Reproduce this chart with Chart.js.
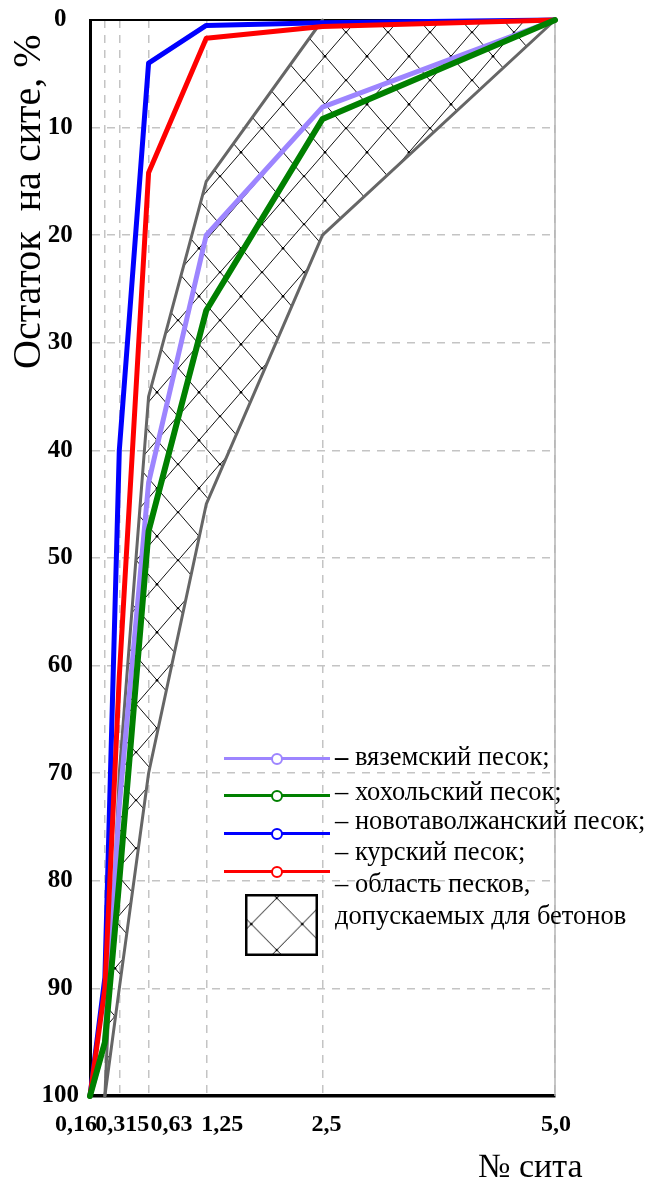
<!DOCTYPE html>
<html lang="ru">
<head>
<meta charset="utf-8">
<title>Остаток на сите</title>
<script src="https://cdn.jsdelivr.net/npm/chart.js@4.4.1/dist/chart.umd.min.js"></script>
<style>
  html, body { margin: 0; padding: 0; background: #fff; }
  #wrap { position: relative; width: 648px; height: 1183px; overflow: hidden;
          font-family: "Liberation Serif", "Times New Roman", serif; color: #000; }
  #plot { position: absolute; left: 0; top: 0; width: 648px; height: 1183px; }
  .ytitle { position: absolute; left: 6.5px; top: 369px; transform-origin: 0 0;
            transform: rotate(-90deg); font-size: 40px; line-height: 40px; white-space: pre; }
  .xtitle { position: absolute; left: 478px; top: 1149px; font-size: 34px; line-height: 34px; white-space: pre; }
  .leg-line { position: absolute; left: 224px; width: 106px; height: 3px; }
  .leg-dot { position: absolute; left: 271px; width: 8px; height: 8px; border-radius: 50%;
             border: 2.5px solid; background: #fff; }
  .leg-text { position: absolute; left: 335px; font-size: 26.5px; line-height: 26.5px; white-space: pre; }
  #legBox { position: absolute; left: 245px; top: 894px; width: 73px; height: 62px; }
</style>
</head>
<body>
<div id="wrap">
  <div id="plot"><canvas id="chart"></canvas></div>
  <div class="ytitle">Остаток  на сите, %</div>
  <div class="xtitle">№ сита</div>

  <div class="leg-line" style="top:757px;background:#9d85ff"></div>
  <div class="leg-dot" style="top:752.5px;border-color:#9d85ff"></div>
  <div class="leg-line" style="top:794px;background:#008000"></div>
  <div class="leg-dot" style="top:789.5px;border-color:#008000"></div>
  <div class="leg-line" style="top:832px;background:#0000ff"></div>
  <div class="leg-dot" style="top:827.5px;border-color:#0000ff"></div>
  <div class="leg-line" style="top:870px;background:#ff0000"></div>
  <div class="leg-dot" style="top:865.5px;border-color:#ff0000"></div>
  <canvas id="legBox" width="73" height="62"></canvas>

  <div class="leg-text" style="top:743px"><b>–</b> вяземский песок;</div>
  <div class="leg-text" style="top:778px">– хохольский песок;</div>
  <div class="leg-text" style="top:807px">– новотаволжанский песок;</div>
  <div class="leg-text" style="top:838px">– курский песок;</div>
  <div class="leg-text" style="top:870px">– область песков,</div>
  <div class="leg-text" style="top:902px">допускаемых для бетонов</div>
</div>

<script>
// Sieve sizes, mm (0 = pan) and their axis labels
const sieveSizes = [0, 0.16, 0.315, 0.63, 1.25, 2.5, 5.0];
const sieveTickLabels = ['0,16', '0,315', '0,63', '1,25', '2,5', '5,0'];

// Cumulative residue on each sieve, %
const vyazemskyResidue        = [100, 95, 73, 43, 20, 8.1, 0];
const khokholskyResidue       = [100, 95, 80, 47.5, 27, 9.2, 0];
const novotavolzhanskyResidue = [100, 89, 40, 4, 0.5, 0.25, 0];
const kurskyResidue           = [100, 90, 61, 14.2, 1.7, 0.6, 0];

// Limits of the zone of sands allowed for concrete
const fineLimitSieves    = [0.16, 0.315, 0.63, 1.25, 2.5];
const fineLimitResidue   = [100, 70, 35, 15, 0];
const coarseLimitSieves  = [0.16, 0.315, 0.63, 1.25, 2.5, 5.0];
const coarseLimitResidue = [100, 90, 70, 45, 20, 0];

const yTicks = [0, 10, 20, 30, 40, 50, 60, 70, 80, 90, 100];

const toPoints = (xs, ys) => xs.map((x, i) => ({ x, y: ys[i] }));

// Cross-hatch tile with small dots at the crossings
function makeHatch(ctx, w, h, ox, oy) {
  const c = document.createElement('canvas');
  c.width = w; c.height = h;
  const g = c.getContext('2d');
  g.strokeStyle = '#111';
  g.lineWidth = 1;
  for (let k = -1; k <= 1; k++) {
    g.beginPath();
    g.moveTo(k * w, 0); g.lineTo(k * w + w, h);
    g.moveTo(k * w + w, 0); g.lineTo(k * w, h);
    g.stroke();
  }
  g.fillStyle = '#000';
  [[0, 0], [w, 0], [0, h], [w, h], [w / 2, h / 2]].forEach(([x, y]) => {
    g.beginPath(); g.arc(x, y, 1.3, 0, Math.PI * 2); g.fill();
  });
  const p = ctx.createPattern(c, 'repeat');
  p.setTransform(new DOMMatrix().translate(ox, oy));
  return p;
}

const canvas = document.getElementById('chart');
const ctx = canvas.getContext('2d');
const hatch = makeHatch(ctx, 42, 48.5, 10, 32);

// Zone polygon: fine limit downwards, then coarse limit back up
const zonePolygon = toPoints(fineLimitSieves, fineLimitResidue)
  .concat(toPoints(coarseLimitSieves, coarseLimitResidue).reverse());

const SERIF = '"Liberation Serif", "Times New Roman", serif';

// Frame: thin black top edge and grey right edge
const framePlugin = {
  id: 'frame',
  beforeDatasetsDraw(chart) {
    const { ctx, chartArea: a } = chart;
    ctx.save();
    ctx.strokeStyle = '#000';
    ctx.lineWidth = 2;
    ctx.beginPath(); ctx.moveTo(a.left, a.top); ctx.lineTo(a.right, a.top); ctx.stroke();
    ctx.strokeStyle = '#b5b5b5';
    ctx.lineWidth = 1.5;
    ctx.beginPath(); ctx.moveTo(a.right, a.top); ctx.lineTo(a.right, a.bottom); ctx.stroke();
    ctx.restore();
  }
};

// Sieve labels under the x axis, packed side by side where the sieves crowd together
const sieveLabelPlugin = {
  id: 'sieveLabels',
  afterDraw(chart, args, opts) {
    const { ctx } = chart;
    const xs = chart.scales.x;
    ctx.save();
    ctx.font = 'bold 24px ' + SERIF;
    ctx.fillStyle = '#000';
    ctx.textAlign = 'center';
    ctx.textBaseline = 'alphabetic';
    sieveSizes.slice(1).forEach((v, i) => {
      const px = xs.getPixelForValue(v) + opts.shift[i];
      ctx.fillText(sieveTickLabels[i], px, opts.baseline);
    });
    ctx.restore();
  }
};

const lineStyle = {
  pointRadius: 0,
  pointHoverRadius: 0,
  fill: false,
  tension: 0,
  borderJoinStyle: 'round',
  borderCapStyle: 'round',
  clip: false
};

new Chart(ctx, {
  type: 'line',
  data: {
    datasets: [
      { ...lineStyle, label: 'хохольский песок', data: toPoints(sieveSizes, khokholskyResidue),
        borderColor: '#008000', borderWidth: 6, order: 0 },
      { ...lineStyle, label: 'курский песок', data: toPoints(sieveSizes, kurskyResidue),
        borderColor: '#ff0000', borderWidth: 5, order: 1 },
      { ...lineStyle, label: 'новотаволжанский песок', data: toPoints(sieveSizes, novotavolzhanskyResidue),
        borderColor: '#0000ff', borderWidth: 5, order: 2 },
      { ...lineStyle, label: 'вяземский песок', data: toPoints(sieveSizes, vyazemskyResidue),
        borderColor: '#9d85ff', borderWidth: 5, order: 3 },
      { ...lineStyle, label: 'fine limit', data: toPoints(fineLimitSieves, fineLimitResidue),
        borderColor: '#666', borderWidth: 3, order: 4 },
      { ...lineStyle, label: 'coarse limit', data: toPoints(coarseLimitSieves, coarseLimitResidue),
        borderColor: '#666', borderWidth: 3, order: 5 },
      { ...lineStyle, label: 'область песков', data: zonePolygon,
        borderWidth: 0, borderColor: 'rgba(0,0,0,0)', backgroundColor: hatch, fill: 'shape', order: 6 }
    ]
  },
  options: {
    responsive: true,
    maintainAspectRatio: false,
    animation: false,
    events: [],
    layout: { padding: { left: 30, top: 20, right: 93, bottom: 0 } },
    plugins: {
      legend: { display: false },
      tooltip: { enabled: false },
      sieveLabels: { shift: [-29, 3, 23, 16, 4, 1], baseline: 1131 }
    },
    scales: {
      x: {
        type: 'linear',
        min: 0,
        max: 5,
        afterBuildTicks(scale) { scale.ticks = sieveSizes.slice(1).map(v => ({ value: v })); },
        afterFit(scale) { scale.height = 87; scale.paddingLeft = 0; scale.paddingRight = 0; },
        ticks: { display: false },
        grid: { color: '#c4c4c4', lineWidth: 1.5, drawTicks: false },
        border: { display: true, color: '#000', width: 3.5, dash: [8, 7] }
      },
      y: {
        type: 'linear',
        reverse: true,
        min: 0,
        max: 100,
        afterBuildTicks(scale) { scale.ticks = yTicks.map(v => ({ value: v })); },
        afterFit(scale) { scale.width = 60; scale.paddingTop = 0; scale.paddingBottom = 0; },
        ticks: {
          crossAlign: 'center',
          padding: 11,
          color: '#000',
          font: { family: SERIF, size: 25, weight: 'bold' },
          callback: v => String(v)
        },
        grid: { color: '#c4c4c4', lineWidth: 1.5, drawTicks: false },
        border: { display: true, color: '#000', width: 3, dash: [8, 7] }
      }
    }
  },
  plugins: [framePlugin, sieveLabelPlugin]
});

// Legend swatch for the hatched zone
(function () {
  const box = document.getElementById('legBox');
  const g = box.getContext('2d');
  g.fillStyle = makeHatch(g, 51, 52, 31.7, 4);
  g.fillRect(0, 0, box.width, box.height);
  g.strokeStyle = '#000';
  g.lineWidth = 2.5;
  g.strokeRect(1.25, 1.25, box.width - 2.5, box.height - 2.5);
})();
</script>
</body>
</html>
